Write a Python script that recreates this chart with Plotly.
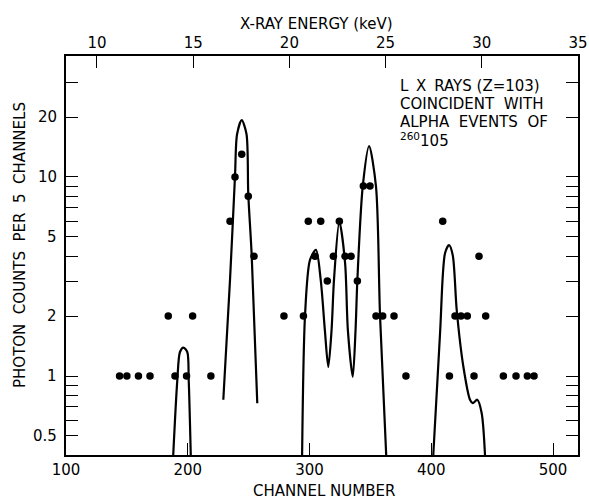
import math
import plotly.graph_objects as go

# ---------------- data ----------------
# measured points: channel number vs photon counts per 5 channels
dot_channel = [144, 150, 159.5, 169, 184, 189.5, 199, 204, 219,
               234.7, 238.8, 244.3, 249.7, 254.4,
               279, 295, 299, 304.5, 309.2, 314.6, 319.6, 324.5, 329.2, 334.1, 339.3,
               344.2, 349.7, 354.6, 360.1, 369.4, 379.2,
               409.4, 414.9, 419.5, 424.4, 429.6, 435.1, 439.2, 444.7,
               459.2, 469.6, 478.9, 484.4]
dot_counts = [1, 1, 1, 1, 2, 1, 1, 2, 1,
              6, 10, 13, 8, 4,
              2, 2, 6, 4, 6, 3, 4, 6, 4, 4, 3,
              9, 9, 2, 2, 2, 1,
              6, 1, 2, 2, 2, 1, 4, 2,
              1, 1, 1, 1]

# fitted curve, read as separate segments
fitA_channel = [187.6, 191.4, 193.6, 196.4, 199.6, 200.8, 202.7]
fitA_counts = [0.35, 0.95, 1.32, 1.39, 1.32, 0.95, 0.35]

fitB_channel = [229.2, 234.7, 238.8, 240.5, 244.3, 248.2, 249.7, 252.5, 257.1]
fitB_counts = [0.76, 3.04, 10.1, 16.4, 19.3, 16.5, 8.2, 4.06, 0.73]

fitC_channel = [293.8, 296.3, 300.4, 305.3, 309.2, 312.6, 315.4, 318.1, 320.1, 324.5,
                329.2, 331.5, 335.5, 337.8, 339.3, 343.7, 348.9, 354.6, 357.9, 363.4]
fitC_counts = [0.35, 2.01, 3.83, 4.30, 3.04, 1.70, 1.11, 1.70, 3.04, 5.96,
               3.70, 1.70, 0.99, 1.70, 3.04, 8.94, 14.3, 8.94, 2.01, 0.35]

fitD_channel = [401.1, 407.2, 411.3, 414.6, 417.6, 420.9, 426.4, 431.8, 434.1, 437.8, 441.4, 444.6]
fitD_counts = [0.35, 1.64, 4.14, 4.55, 4.06, 2.14, 1.11, 0.76, 0.73, 0.76, 0.65, 0.35]

channel_ticks = [100, 200, 300, 400, 500]
energy_ticks = [10, 15, 20, 25, 30, 35]
count_ticks = [0.5, 1, 2, 5, 10, 20]
count_ticktext = ["0.5", "1", "2", "5", "10", "20"]
count_minor = [0.6, 0.7, 0.8, 0.9, 3, 4, 6, 7, 8, 9, 30]

label_lines = ["L\u2009 X\u2009 RAYS (Z=103)",
               "COINCIDENT\u00a0\u00a0WITH",
               "ALPHA\u00a0 EVENTS\u00a0 OF",
               "<sup>260</sup>105"]

# ---------------- figure ----------------
FONT = "DejaVu Sans"
fig = go.Figure()

for cx, cy in [(fitA_channel, fitA_counts), (fitB_channel, fitB_counts),
               (fitC_channel, fitC_counts), (fitD_channel, fitD_counts)]:
    fig.add_trace(go.Scatter(x=cx, y=cy, mode="lines",
                             line=dict(color="black", width=2.2, shape="spline", smoothing=0.8),
                             showlegend=False, hoverinfo="skip"))

fig.add_trace(go.Scatter(x=dot_channel, y=dot_counts, mode="markers",
                         marker=dict(color="black", size=7.5),
                         showlegend=False))

W, H = 589, 502
L, R, T, B = 66, 11, 56, 47
pw, ph = W - L - R, H - T - B

def px(x):
    return (x - L) / pw

def py(y):
    return (H - B - y) / ph

tick_font = dict(family=FONT, size=15, color="black")
fig.update_layout(
    width=W, height=H,
    margin=dict(l=L, r=R, t=T, b=B, autoexpand=False),
    paper_bgcolor="white", plot_bgcolor="white",
    font=dict(family=FONT, size=15, color="black"),
    xaxis=dict(range=[100, 520.5], tickmode="array", tickvals=channel_ticks,
               ticks="inside", ticklen=12, tickwidth=1.4, tickcolor="black",
               showline=True, linecolor="black", linewidth=1.6, mirror=True,
               showgrid=False, zeroline=False, ticklabelstandoff=0, automargin=False,
               tickfont=tick_font),
    xaxis2=dict(range=[8.39, 35], overlaying="x", side="top", anchor="y",
                tickmode="array", tickvals=energy_ticks,
                ticks="inside", ticklen=12, tickwidth=1.4, tickcolor="black",
                showline=True, linecolor="black", linewidth=1.6,
                showgrid=False, zeroline=False, ticklabelstandoff=0, automargin=False,
                tickfont=tick_font),
    yaxis=dict(type="log", range=[-0.397, 1.608], tickmode="array",
               tickvals=count_ticks, showticklabels=False,
               ticks="inside", ticklen=12, tickwidth=1.4, tickcolor="black",
               minor=dict(tickmode="array", tickvals=count_minor, ticks="inside",
                          ticklen=12, tickwidth=1.4, tickcolor="black", showgrid=False),
               showline=True, linecolor="black", linewidth=1.6, mirror="ticks",
               showgrid=False, zeroline=False, automargin=False),
)

# invisible marker so the top (energy) axis is drawn
fig.add_trace(go.Scatter(x=[energy_ticks[0]], y=[count_ticks[1]], xaxis="x2", mode="markers",
                         marker=dict(opacity=0), showlegend=False, hoverinfo="skip"))

ann = []
# y tick labels placed at the axis values, close to the frame as in the reference
for v, t in zip(count_ticks, count_ticktext):
    ann.append(dict(text=t, x=px(59), y=math.log10(v), xref="paper", yref="y",
                    showarrow=False, xanchor="right", yanchor="middle",
                    font=tick_font))
ann.append(dict(text="X-RAY ENERGY (keV)", x=px(316), y=py(24), xref="paper", yref="paper",
                showarrow=False, xanchor="center", yanchor="middle",
                font=dict(family=FONT, size=15, color="black")))
ann.append(dict(text="CHANNEL NUMBER", x=px(324), y=py(491), xref="paper", yref="paper",
                showarrow=False, xanchor="center", yanchor="middle",
                font=dict(family=FONT, size=15, color="black")))
ann.append(dict(text="PHOTON\u00a0 COUNTS\u00a0 PER\u00a0 5\u00a0 CHANNELS", x=px(20), y=py(245),
                xref="paper", yref="paper", textangle=-90,
                showarrow=False, xanchor="center", yanchor="middle",
                font=dict(family=FONT, size=15, color="black")))
for txt, yc in zip(label_lines, [86, 104, 122, 140]):
    ann.append(dict(text=txt, x=px(398), y=py(yc), xref="paper", yref="paper",
                    showarrow=False, xanchor="left", yanchor="middle",
                    font=dict(family=FONT, size=15, color="black")))
fig.update_layout(annotations=ann)

fig.write_html("out.html")
